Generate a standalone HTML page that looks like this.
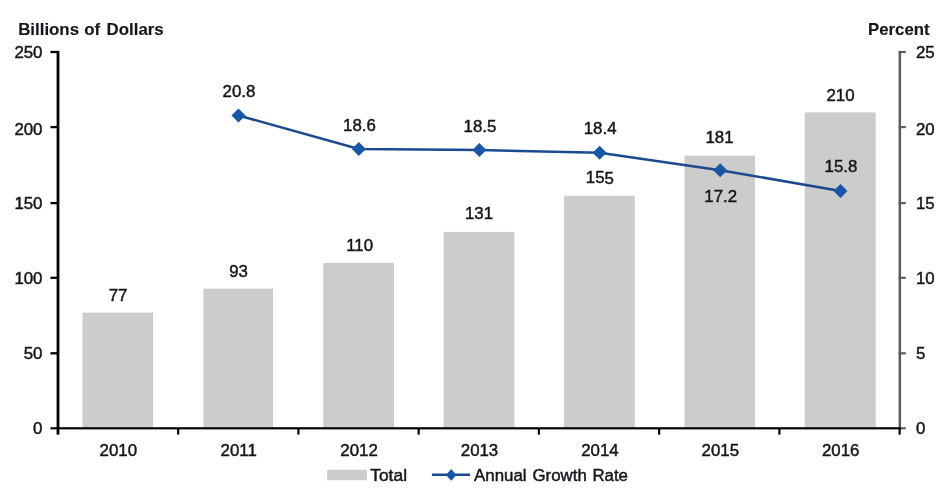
<!DOCTYPE html>
<html lang="en"><head><meta charset="utf-8"><title>Chart</title>
<style>
html,body{margin:0;padding:0;background:#fff;}
body{width:951px;height:503px;overflow:hidden;}
svg{display:block;}
text{font-family:"Liberation Sans",Arial,Helvetica,sans-serif;font-size:16.6px;fill:#15151b;stroke:#15151b;stroke-width:0.45px;}
.b{font-weight:bold;stroke-width:0.12px;}
</style></head><body>
<svg width="951" height="503" viewBox="0 0 951 503">
<rect x="0" y="0" width="951" height="503" fill="#ffffff"/>
<rect x="82.45" y="312.60" width="70.7" height="115.70" fill="#cccccc"/>
<rect x="203.40" y="288.70" width="69.6" height="139.60" fill="#cccccc"/>
<rect x="323.25" y="262.90" width="70.7" height="165.40" fill="#cccccc"/>
<rect x="443.65" y="231.90" width="70.7" height="196.40" fill="#cccccc"/>
<rect x="564.05" y="195.70" width="70.7" height="232.60" fill="#cccccc"/>
<rect x="684.50" y="155.60" width="70.6" height="272.70" fill="#cccccc"/>
<rect x="804.70" y="112.40" width="71.0" height="315.90" fill="#cccccc"/>
<rect x="898.6" y="51.0" width="2.5" height="377.3" fill="#5a5a5a"/>
<rect x="898.6" y="50.95" width="7.2" height="2.1" fill="#5a5a5a"/>
<rect x="898.6" y="126.05" width="7.2" height="2.1" fill="#5a5a5a"/>
<rect x="898.6" y="202.05" width="7.2" height="2.1" fill="#5a5a5a"/>
<rect x="898.6" y="276.75" width="7.2" height="2.1" fill="#5a5a5a"/>
<rect x="898.6" y="352.25" width="7.2" height="2.1" fill="#5a5a5a"/>
<rect x="898.6" y="427.25" width="7.2" height="2.1" fill="#5a5a5a"/>
<rect x="56.6" y="50.9" width="2.8" height="383.7" fill="#000"/>
<rect x="50.5" y="50.85" width="7" height="2.3" fill="#000"/>
<rect x="50.5" y="125.95" width="7" height="2.3" fill="#000"/>
<rect x="50.5" y="201.95" width="7" height="2.3" fill="#000"/>
<rect x="50.5" y="276.65" width="7" height="2.3" fill="#000"/>
<rect x="50.5" y="352.15" width="7" height="2.3" fill="#000"/>
<rect x="50.5" y="427.20" width="850.30" height="2.2" fill="#000"/>
<rect x="177.05" y="428.30" width="2.2" height="6.30" fill="#000"/>
<rect x="297.30" y="428.30" width="2.2" height="6.30" fill="#000"/>
<rect x="417.55" y="428.30" width="2.2" height="6.30" fill="#000"/>
<rect x="537.80" y="428.30" width="2.2" height="6.30" fill="#000"/>
<rect x="658.05" y="428.30" width="2.2" height="6.30" fill="#000"/>
<rect x="778.30" y="428.30" width="2.2" height="6.30" fill="#000"/>
<rect x="898.55" y="428.30" width="2.2" height="6.30" fill="#000"/>
<path d="M238.50 115.50 L358.90 149.05 L479.40 150.00 L599.60 152.70 L720.20 170.20 L840.50 190.90" fill="none" stroke="#1c4a8e" stroke-width="2.5" stroke-linejoin="round"/>
<path d="M238.50 108.50 L245.50 115.50 L238.50 122.50 L231.50 115.50Z" fill="#1757a6"/>
<path d="M358.90 142.05 L365.90 149.05 L358.90 156.05 L351.90 149.05Z" fill="#1757a6"/>
<path d="M479.40 143.00 L486.40 150.00 L479.40 157.00 L472.40 150.00Z" fill="#1757a6"/>
<path d="M599.60 145.70 L606.60 152.70 L599.60 159.70 L592.60 152.70Z" fill="#1757a6"/>
<path d="M720.20 163.20 L727.20 170.20 L720.20 177.20 L713.20 170.20Z" fill="#1757a6"/>
<path d="M840.50 183.90 L847.50 190.90 L840.50 197.90 L833.50 190.90Z" fill="#1757a6"/>
<text transform="matrix(1.015 0.0004 0 1 18.20 34.60)" class="b">Billions</text>
<text transform="matrix(1.015 0.0004 0 1 84.30 34.60)" class="b">of</text>
<text transform="matrix(1.015 0.0004 0 1 106.60 34.60)" class="b">Dollars</text>
<text class="b" transform="matrix(1 0.0004 0 1 868.0 34.6)" textLength="61.6" lengthAdjust="spacingAndGlyphs">Percent</text>
<text transform="matrix(1.015 0.0004 0 1 42.50 58.40)" text-anchor="end">250</text>
<text transform="matrix(1.015 0.0004 0 1 42.50 134.70)" text-anchor="end">200</text>
<text transform="matrix(1.015 0.0004 0 1 42.50 209.40)" text-anchor="end">150</text>
<text transform="matrix(1.015 0.0004 0 1 42.50 284.30)" text-anchor="end">100</text>
<text transform="matrix(1.015 0.0004 0 1 42.50 359.30)" text-anchor="end">50</text>
<text transform="matrix(1.015 0.0004 0 1 42.50 434.10)" text-anchor="end">0</text>
<text transform="matrix(1.015 0.0004 0 1 916.00 58.40)">25</text>
<text transform="matrix(1.015 0.0004 0 1 916.00 134.70)">20</text>
<text transform="matrix(1.015 0.0004 0 1 916.00 209.40)">15</text>
<text transform="matrix(1.015 0.0004 0 1 916.00 284.30)">10</text>
<text transform="matrix(1.015 0.0004 0 1 916.00 359.30)">5</text>
<text transform="matrix(1.015 0.0004 0 1 916.00 434.10)">0</text>
<text transform="matrix(1.015 0.0004 0 1 118.30 455.80)" text-anchor="middle">2010</text>
<text transform="matrix(1.015 0.0004 0 1 238.70 455.80)" text-anchor="middle">2011</text>
<text transform="matrix(1.015 0.0004 0 1 359.10 455.80)" text-anchor="middle">2012</text>
<text transform="matrix(1.015 0.0004 0 1 479.50 455.80)" text-anchor="middle">2013</text>
<text transform="matrix(1.015 0.0004 0 1 599.90 455.80)" text-anchor="middle">2014</text>
<text transform="matrix(1.015 0.0004 0 1 720.30 455.80)" text-anchor="middle">2015</text>
<text transform="matrix(1.015 0.0004 0 1 840.70 455.80)" text-anchor="middle">2016</text>
<text transform="matrix(1.015 0.0004 0 1 118.10 300.90)" text-anchor="middle">77</text>
<text transform="matrix(1.015 0.0004 0 1 238.50 277.00)" text-anchor="middle">93</text>
<text transform="matrix(1.015 0.0004 0 1 359.60 250.60)" text-anchor="middle">110</text>
<text transform="matrix(1.015 0.0004 0 1 479.00 219.10)" text-anchor="middle">131</text>
<text transform="matrix(1.015 0.0004 0 1 599.90 183.50)" text-anchor="middle">155</text>
<text transform="matrix(1.015 0.0004 0 1 719.50 142.80)" text-anchor="middle">181</text>
<text transform="matrix(1.015 0.0004 0 1 840.50 100.90)" text-anchor="middle">210</text>
<text transform="matrix(1.015 0.0004 0 1 239.00 97.30)" text-anchor="middle">20.8</text>
<text transform="matrix(1.015 0.0004 0 1 359.40 130.80)" text-anchor="middle">18.6</text>
<text transform="matrix(1.015 0.0004 0 1 479.90 132.20)" text-anchor="middle">18.5</text>
<text transform="matrix(1.015 0.0004 0 1 600.10 134.30)" text-anchor="middle">18.4</text>
<text transform="matrix(1.015 0.0004 0 1 720.70 201.70)" text-anchor="middle">17.2</text>
<text transform="matrix(1.015 0.0004 0 1 841.00 172.10)" text-anchor="middle">15.8</text>
<rect x="327.1" y="469.7" width="39.8" height="10.6" fill="#cccccc"/>
<text transform="matrix(1.05 0.0004 0 1 370.20 480.80)">Total</text>
<path d="M431.9 474.7 H470.1" stroke="#1c4a8e" stroke-width="2.4" fill="none"/>
<path d="M451.20 469.00 L456.50 474.90 L451.20 480.80 L445.90 474.90Z" fill="#1757a6"/>
<text transform="matrix(1.015 0.0004 0 1 474.10 480.80)">Annual</text>
<text transform="matrix(1.015 0.0004 0 1 532.50 480.80)">Growth</text>
<text transform="matrix(1.015 0.0004 0 1 592.40 480.80)">Rate</text>
</svg></body></html>
